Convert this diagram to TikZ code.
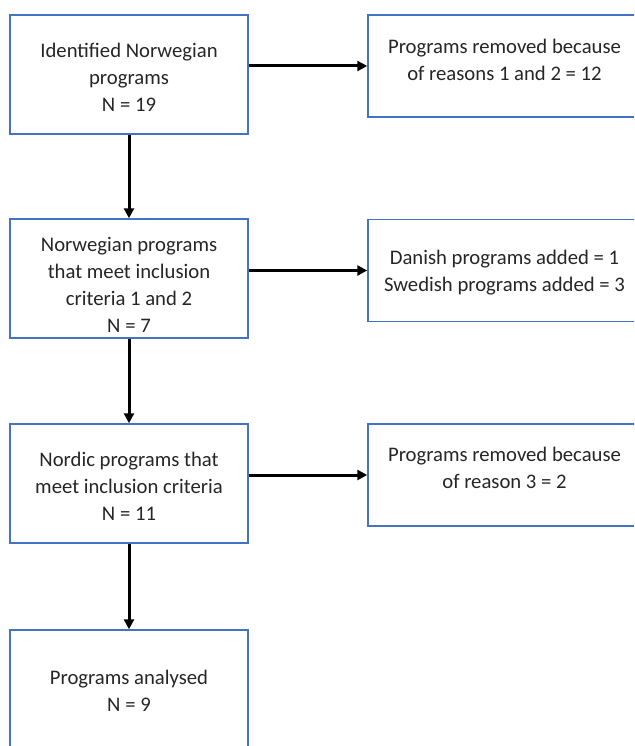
\documentclass[tikz,border=0pt]{standalone}
\usepackage{fontspec}
\setmainfont{Carlito}
\usetikzlibrary{arrows.meta}
\definecolor{boxblue}{HTML}{4472C4}
\definecolor{txtgray}{HTML}{262626}
\begin{document}
\begin{tikzpicture}[x=1pt,y=-1pt,
  box/.style={draw=boxblue,line width=1.5pt,rectangle,inner sep=0pt,fill=white},
  txt/.style={align=center,inner sep=0pt,text=txtgray,font=\fontsize{20.7}{27}\selectfont},
  conn/.style={line width=3pt,-{Triangle[length=10pt,width=10pt]}}]
\useasboundingbox (0,0) rectangle (634,746);
\clip (0,0) rectangle (634,746);
\fill[white] (0,0) rectangle (634,746);
% left boxes
\node[box,minimum width=238pt,minimum height=119pt] (b1) at (129,74.5) {};
\node[box,minimum width=238pt,minimum height=119pt] (b2) at (129,278.5) {};
\node[box,minimum width=238pt,minimum height=119pt] (b3) at (129,483.5) {};
\node[box,minimum width=238pt,minimum height=130pt] (b4) at (129,695) {};
% right boxes
\node[box,minimum width=273pt,minimum height=102pt] (r1) at (504.5,66) {};
\node[box,minimum width=273pt,minimum height=102pt] (r2) at (504.5,270.5) {};
\node[box,minimum width=273pt,minimum height=102pt] (r3) at (504.5,475) {};
% texts
\node[txt] (t1) at (129,77) {Identified Norwegian\\programs\\N = 19};
\node[txt] (t2) at (129,285) {Norwegian programs\\that meet inclusion\\criteria 1 and 2\\N = 7};
\node[txt] (t3) at (129,486) {Nordic programs that\\meet inclusion criteria\\N = 11};
\node[txt] (t4) at (129,691) {Programs analysed\\N = 9};
\node[txt] (tr1) at (504.5,60) {Programs removed because\\of reasons 1 and 2 = 12};
\node[txt] (tr2) at (504.5,273) {Danish programs added = 1\\Swedish programs added = 3};
\node[txt] (tr3) at (504.5,468) {Programs removed because\\of reason 3 = 2};
% connectors
\draw[conn] (b1.south) -- (b2.north);
\draw[conn] (b2.south) -- (b3.north);
\draw[conn] (b3.south) -- (b4.north);
\draw[conn] (r1.west -| b1.east) -- (r1.west);
\draw[conn] (r2.west -| b2.east) -- (r2.west);
\draw[conn] (r3.west -| b3.east) -- (r3.west);
\end{tikzpicture}
\end{document}
